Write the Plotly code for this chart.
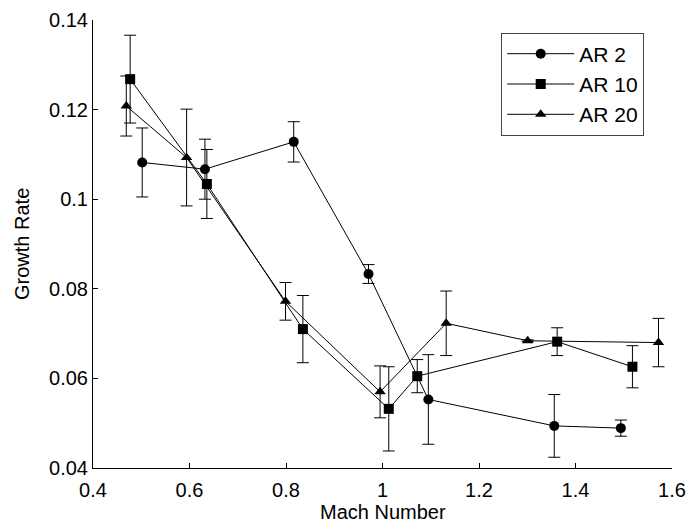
import plotly.graph_objects as go

# AR 2 (circles)
ar2_x = [0.502, 0.632, 0.816, 0.971, 1.095, 1.356, 1.494]
ar2_y = [0.1082, 0.1067, 0.1128, 0.0833, 0.0553, 0.0494, 0.0489]
ar2_err = [0.0077, 0.0067, 0.0045, 0.0021, 0.0100, 0.0070, 0.0018]

# AR 10 (squares)
ar10_x = [0.477, 0.636, 0.835, 1.013, 1.072, 1.362, 1.518]
ar10_y = [0.1268, 0.1034, 0.0710, 0.0532, 0.0605, 0.0682, 0.0626]
ar10_err = [0.0098, 0.0077, 0.0075, 0.0094, 0.0037, 0.0031, 0.0047]

# AR 20 (triangles)
ar20_x = [0.469, 0.594, 0.799, 0.995, 1.132, 1.301, 1.572]
ar20_y = [0.1208, 0.1093, 0.0772, 0.0570, 0.0723, 0.0684, 0.0680]
ar20_err = [0.0067, 0.0108, 0.0042, 0.0058, 0.0072, 0.0002, 0.0054]

x_ticks = [0.4, 0.6, 0.8, 1.0, 1.2, 1.4, 1.6]
x_ticklabels = ["0.4", "0.6", "0.8", "1", "1.2", "1.4", "1.6"]
y_ticks = [0.04, 0.06, 0.08, 0.10, 0.12, 0.14]
y_ticklabels = ["0.04", "0.06", "0.08", "0.1", "0.12", "0.14"]

FONT = "Liberation Sans, Arial, sans-serif"

fig = go.Figure()
series = [
    ("AR 2", ar2_x, ar2_y, ar2_err, "circle"),
    ("AR 10", ar10_x, ar10_y, ar10_err, "square"),
    ("AR 20", ar20_x, ar20_y, ar20_err, "triangle-up"),
]
for name, xs, ys, es, sym in series:
    fig.add_trace(go.Scatter(
        x=xs, y=ys, name=name, mode="lines+markers",
        line=dict(color="black", width=1),
        marker=dict(symbol=sym, size=10, color="black"),
        error_y=dict(type="data", array=es, visible=True,
                     color="black", thickness=1, width=6),
    ))

fig.update_layout(
    width=688, height=522,
    margin=dict(l=93, r=16, t=20, b=54),
    paper_bgcolor="white", plot_bgcolor="white",
    font=dict(family=FONT, size=20, color="black"),
    showlegend=True,
    legend=dict(x=0.952, y=0.972, xanchor="right", yanchor="top",
                bordercolor="#444", borderwidth=1, bgcolor="white",
                font=dict(size=21), tracegroupgap=0, itemwidth=67),
    xaxis=dict(range=[0.4, 1.6], tickvals=x_ticks, ticktext=x_ticklabels,
               showline=True, linecolor="black", linewidth=1,
               ticks="inside", ticklen=5, tickcolor="black",
               showgrid=False, zeroline=False, mirror=False,
               automargin=False, ticklabelstandoff=4),
    yaxis=dict(range=[0.04, 0.14], tickvals=y_ticks, ticktext=y_ticklabels,
               showline=True, linecolor="black", linewidth=1,
               ticks="inside", ticklen=5, tickcolor="black",
               showgrid=False, zeroline=False, mirror=False,
               automargin=False),
    annotations=[
        dict(text="Mach Number", xref="paper", yref="paper", x=0.5, y=0,
             xanchor="center", yanchor="middle", yshift=-44, showarrow=False,
             font=dict(size=20)),
        dict(text="Growth Rate", xref="paper", yref="paper", x=0, y=0.5,
             xanchor="center", yanchor="middle", xshift=-71, textangle=-90,
             showarrow=False, font=dict(size=20)),
    ],
)

fig.write_html("out.html")
